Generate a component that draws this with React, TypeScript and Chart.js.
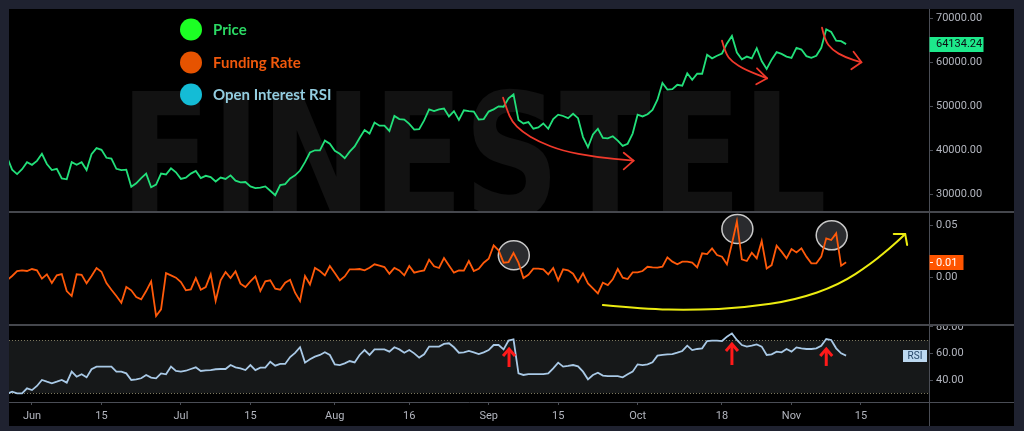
import React, { useEffect, useRef } from 'react';
import { Chart, registerables } from 'chart.js';

Chart.register(...registerables);

// x = days since 1 Jun 2021; the first value is 27 May 2021
const FIRST_DAY = -5;
const X_MIN = -4.63;
const X_MAX = 180.7;

const price = [
  38400, 35600, 34600, 35700, 37300, 36700, 37600, 39200, 36900, 35500,
  35800, 33600, 33400, 37300, 36700, 37300, 35500, 39100, 40500, 40100,
  38300, 38100, 35800, 35500, 35600, 31700, 32500, 33700, 34700, 31600,
  32200, 34700, 34500, 35900, 35000, 33500, 33800, 34700, 35300, 33700,
  34200, 33900, 32900, 33800, 33500, 34300, 33100, 32700, 32800, 31800,
  31400, 31500, 31800, 30800, 29800, 32100, 32300, 33600, 34300, 35400,
  37300, 39500, 40000, 40000, 42200, 41500, 39900, 39200, 38200, 39700,
  40900, 42800, 44600, 43800, 46300, 45600, 45600, 44400, 47800, 47100,
  47000, 46000, 44700, 44800, 46800, 49300, 48900, 49300, 49500, 47700,
  48900, 46900, 49100, 48900, 48800, 47000, 47100, 48800, 49300, 50000,
  49900, 51800, 52700, 46900, 46100, 46400, 44900, 45200, 46100, 44900,
  47100, 48100, 47800, 47300, 48300, 47300, 43000, 40700, 43600, 44900,
  42800, 42700, 43200, 42200, 41000, 41500, 43800, 48100, 47700, 48200,
  49200, 51500, 55300, 53800, 53900, 54900, 54700, 57500, 56000, 57400,
  57400, 61700, 60900, 61500, 62000, 64300, 66000, 62200, 60700, 61300,
  60900, 63200, 60300, 58500, 60600, 62300, 61900, 61300, 61000, 63300,
  62900, 61400, 61000, 61500, 63300, 67500, 66900, 64900, 64800, 64134.24,
];

const funding = [
  -0.003, 0.001, 0.0058, 0.0064, 0.0058, 0.0077, 0.0064, -0.0016, 0.0026, -0.0058,
  0.0016, 0.0029, -0.0135, -0.0183, 0.0026, 0.0022, -0.0061, 0.001, 0.0087, 0.0051,
  -0.0058, -0.0122, -0.0183, -0.0247, -0.0096, -0.0128, -0.0192, -0.0215, -0.0135, -0.0042,
  -0.0375, -0.0311, 0.0038, 0.0016, -0.0006, -0.0048, -0.0128, -0.0119, -0.001, -0.0122,
  -0.0096, 0.0026, -0.0231, -0.0032, 0.0048, -0.001, 0.0055, -0.0064, -0.0096, -0.0042,
  0.0006, -0.0135, -0.0042, -0.0032, -0.0112, -0.0122, -0.0055, -0.0027, -0.0151, -0.0231,
  0.001, -0.0071, 0.0087, 0.0058, 0.0016, 0.0106, 0.0038, -0.0032, 0.0006, 0.0074,
  0.0074, 0.0077, 0.0064, 0.009, 0.0122, 0.0109, 0.0096, 0.0032, 0.0087, 0.0064,
  0.0016, 0.0106, 0.0042, 0.0055, 0.0064, 0.0167, 0.0103, 0.0087, 0.0183, 0.0112,
  0.0042, 0.0064, 0.0061, 0.0154, 0.0058, 0.008, 0.0138, 0.0176, 0.0305, 0.0257,
  0.0138, 0.0144, 0.0231, 0.0138, -0.001, 0.0022, 0.008, 0.008, 0.0074, 0.0026,
  0.0087, -0.0032, 0.0074, 0.0064, 0.0032, -0.0047, 0.0035, -0.0061, -0.0109, -0.0157,
  -0.0055, -0.0077, -0.0022, 0.0077, -0.0006, -0.0019, 0.0045, 0.0045, 0.0058, 0.0099,
  0.0093, 0.009, 0.0099, 0.0189, 0.0148, 0.0122, 0.0148, 0.0148, 0.0138, 0.0093,
  0.0228, 0.0221, 0.0276, 0.0212, 0.0196, 0.0122, 0.032, 0.0535, 0.017, 0.0154,
  0.0234, 0.018, 0.0346, 0.0083, 0.0115, 0.0301, 0.0244, 0.018, 0.0269, 0.0237,
  0.0276, 0.0196, 0.0131, 0.0131, 0.0196, 0.0372, 0.0356, 0.042, 0.0109, 0.0141,
];

const rsi = [
  29.5, 31.2, 29.9, 29.9, 33.7, 32.4, 35.5, 40.0, 38.7, 37.5,
  38.7, 40.0, 38.0, 46.3, 42.5, 44.3, 42.0, 48.1, 50.1, 50.1,
  50.1, 50.1, 46.3, 46.3, 45.0, 40.0, 40.5, 41.3, 43.8, 41.8,
  41.3, 45.0, 44.3, 50.1, 46.8, 46.3, 47.0, 48.3, 49.6, 46.8,
  47.3, 47.5, 48.1, 48.3, 48.3, 51.3, 49.6, 48.8, 47.5, 51.3,
  47.5, 49.3, 49.3, 53.8, 50.8, 52.1, 52.1, 57.3, 60.5, 64.7,
  53.1, 55.6, 57.6, 58.9, 60.9, 58.9, 51.8, 51.3, 52.6, 54.3,
  53.3, 58.9, 62.6, 58.9, 63.1, 63.1, 63.1, 61.4, 64.7, 63.1,
  60.6, 62.6, 60.1, 56.9, 59.4, 65.2, 65.2, 65.2, 67.2, 67.7,
  64.7, 60.6, 60.9, 61.9, 60.9, 59.6, 60.9, 62.6, 66.4, 66.4,
  63.1, 69.7, 70.7, 45.0, 43.8, 44.5, 44.5, 44.5, 44.5, 45.0,
  48.8, 53.1, 50.1, 50.6, 51.3, 50.3, 46.3, 40.5, 43.8, 45.5,
  43.3, 43.0, 43.0, 43.0, 42.0, 44.3, 46.3, 51.8, 51.3, 51.8,
  53.3, 58.4, 58.9, 59.4, 59.6, 60.6, 61.9, 65.9, 62.6, 63.4,
  63.9, 69.4, 69.7, 69.7, 69.4, 72.7, 75.2, 70.2, 66.4, 65.2,
  65.9, 66.9, 65.2, 58.9, 59.4, 61.4, 60.9, 63.4, 61.4, 64.6,
  63.9, 63.4, 63.4, 63.9, 65.9, 70.9, 70.2, 63.9, 60.1, 58.4,
];

const timeTickDays = [0, 14, 30, 44, 61, 76, 92, 106, 122, 139, 153, 167];
const timeTickLabels = ['Jun', '15', 'Jul', '15', 'Aug', '16', 'Sep', '15', 'Oct', '18', 'Nov', '15'];
const priceTicks = [30000, 40000, 50000, 60000, 70000];
const fundingTicks = [0, 0.05];
const rsiTicks = [40, 60, 80];
const rsiBand = [30, 70];
const seriesNames = ['Price', 'Funding Rate', 'Open Interest RSI'];

// hand-drawn annotations, in data units (day, value)
const priceArrows = [
  {
    path: [[94.9, 51950], [95.7, 49150], [96.7, 46500], [98.7, 44230], [102.1, 41950], [106.8, 39900], [113.4, 38480], [121.2, 37640]],
    head: [[119.2, 39450], [121.2, 37640], [119.2, 35680]],
  },
  {
    path: [[139.0, 64900], [139.7, 62050], [141.0, 60140], [143.7, 58250], [148.1, 56360]],
    head: [[146.05, 58640], [148.1, 56360], [145.9, 55000]],
  },
  {
    path: [[159.15, 67860], [159.7, 65070], [161.2, 62800], [163.8, 61140], [167.1, 60000]],
    head: [[165.5, 62410], [167.1, 60000], [165.05, 58410]],
  },
];
const fundingTrend = {
  path: [[115.0, -0.0269], [123.5, -0.0308], [133.0, -0.0318], [143.7, -0.0295], [153.8, -0.0221], [162.5, -0.0077], [169.2, 0.0132], [173.9, 0.0324], [175.9, 0.0414]],
  head: [[173.6, 0.0414], [175.9, 0.0414], [176.3, 0.0308]],
};
const fundingCircles = [[97.06, 0.0209], [142.1, 0.0462], [161.1, 0.0401]];
const rsiArrows = [[96.1, 64.2, 49.8], [141, 67.9, 51.3], [160, 64.2, 50.6]];

const AXIS_TEXT = '#b2b5be';
const AXIS_LINE = '#4a4d55';
const PRICE_COLOR = '#22e07a';
const FUNDING_COLOR = '#ff5a0a';
const RSI_COLOR = '#a9c9e6';

function toPts(xs: any, ys: any, pts: number[][]) {
  return pts.map((p) => [xs.getPixelForValue(p[0]), ys.getPixelForValue(p[1])]);
}

function drawCurve(ctx: any, xs: any, ys: any, ann: any, color: string, width: number) {
  const p = toPts(xs, ys, ann.path);
  ctx.save();
  ctx.strokeStyle = color;
  ctx.lineWidth = width;
  ctx.lineCap = 'round';
  ctx.lineJoin = 'round';
  ctx.beginPath();
  ctx.moveTo(p[0][0], p[0][1]);
  for (let i = 1; i < p.length - 1; i++) {
    const mx = (p[i][0] + p[i + 1][0]) / 2;
    const my = (p[i][1] + p[i + 1][1]) / 2;
    ctx.quadraticCurveTo(p[i][0], p[i][1], mx, my);
  }
  ctx.lineTo(p[p.length - 1][0], p[p.length - 1][1]);
  ctx.stroke();
  const h = toPts(xs, ys, ann.head);
  ctx.beginPath();
  ctx.moveTo(h[0][0], h[0][1]);
  ctx.lineTo(h[1][0], h[1][1]);
  ctx.lineTo(h[2][0], h[2][1]);
  ctx.stroke();
  ctx.restore();
}

function drawTag(ctx: any, x: number, yc: number, w: number, h: number, bg: string, fg: string, text: string, tx: number) {
  ctx.save();
  ctx.fillStyle = bg;
  ctx.fillRect(x, Math.round(yc - h / 2), w, h);
  ctx.fillStyle = fg;
  ctx.font = '11px Roboto';
  ctx.textBaseline = 'middle';
  ctx.textAlign = 'left';
  ctx.fillText(text, tx, yc + 0.5);
  ctx.restore();
}

function yScale(min: number, max: number, ticks: number[]) {
  return {
    position: 'right',
    min,
    max,
    afterFit: (s: any) => {
      s.width = 85;
      s.paddingTop = 0;
      s.paddingBottom = 0;
    },
    afterBuildTicks: (s: any) => {
      s.ticks = ticks.map((v) => ({ value: v }));
    },
    ticks: {
      color: AXIS_TEXT,
      font: { family: 'Roboto', size: 11 },
      padding: 3,
      callback: (v: any) => Number(v).toFixed(2),
    },
    grid: { drawOnChartArea: false, drawTicks: true, tickLength: 4, color: AXIS_LINE },
    border: { display: true, color: AXIS_LINE, width: 1 },
  };
}

function hiddenX() {
  return { type: 'linear', min: X_MIN, max: X_MAX, display: false };
}

function lineData(values: number[], label: string, color: string) {
  return {
    datasets: [
      {
        label,
        data: values.map((v, i) => ({ x: i + FIRST_DAY, y: v })),
        borderColor: color,
        borderWidth: 1.8,
        pointRadius: 0,
        fill: false,
        tension: 0,
      },
    ],
  };
}

const baseOptions = {
  animation: false,
  responsive: false,
  maintainAspectRatio: false,
  events: [],
  layout: { padding: 0 },
  plugins: { legend: { display: false }, tooltip: { enabled: false } },
};

const pricePanel = {
  id: 'pricePanel',
  beforeDatasetsDraw(chart: any) {
    const { ctx, chartArea: a } = chart;
    ctx.save();
    ctx.beginPath();
    ctx.rect(a.left, a.top, a.right - a.left, a.bottom - a.top);
    ctx.clip();
    ctx.fillStyle = '#121212';
    ctx.font = 'bold 172px "DejaVu Sans"';
    ctx.textBaseline = 'alphabetic';
    ctx.textAlign = 'left';
    ctx.fillText('FINESTEL', 111, 207, 707);
    ctx.restore();
  },
  afterDatasetsDraw(chart: any) {
    const { ctx, scales } = chart;
    priceArrows.forEach((ar) => drawCurve(ctx, scales.x, scales.y, ar, '#f0392b', 1.8));
    const items = [
      { dot: '#1cff24', text: '#2bd964', y: 20.5 },
      { dot: '#e65300', text: '#f0580c', y: 53.5 },
      { dot: '#14bcd6', text: '#93cde0', y: 85.5 },
    ];
    ctx.save();
    ctx.font = 'bold 15px Lato';
    ctx.textBaseline = 'middle';
    ctx.textAlign = 'left';
    items.forEach((it, i) => {
      ctx.fillStyle = it.dot;
      ctx.beginPath();
      ctx.arc(182, it.y, 11, 0, Math.PI * 2);
      ctx.fill();
      ctx.fillStyle = it.text;
      ctx.fillText(seriesNames[i], 204, it.y + 0.5);
    });
    ctx.restore();
  },
  afterDraw(chart: any) {
    const { ctx, chartArea: a, scales } = chart;
    const last = price[price.length - 1];
    const yc = scales.y.getPixelForValue(last);
    drawTag(ctx, a.right + 0.5, yc, 54, 15, '#1de98b', '#0b0d12', last.toFixed(2), a.right + 7);
  },
};

const fundingPanel = {
  id: 'fundingPanel',
  beforeDatasetsDraw(chart: any) {
    const { ctx, scales } = chart;
    ctx.save();
    fundingCircles.forEach((c) => {
      const cx = scales.x.getPixelForValue(c[0]);
      const cy = scales.y.getPixelForValue(c[1]);
      ctx.beginPath();
      ctx.ellipse(cx, cy, 15.5, 14.5, 0, 0, Math.PI * 2);
      ctx.fillStyle = '#2a2b2e';
      ctx.fill();
      ctx.strokeStyle = '#c9c9c9';
      ctx.lineWidth = 1.5;
      ctx.stroke();
    });
    ctx.restore();
  },
  afterDatasetsDraw(chart: any) {
    const { ctx, scales } = chart;
    drawCurve(ctx, scales.x, scales.y, fundingTrend, '#ecec10', 2);
  },
  afterDraw(chart: any) {
    const { ctx, chartArea: a, scales } = chart;
    const last = funding[funding.length - 1];
    const yc = scales.y.getPixelForValue(last);
    drawTag(ctx, a.right + 0.5, yc, 34, 15, '#ff5500', '#ffffff', last.toFixed(2), a.right + 7);
    ctx.save();
    ctx.strokeStyle = '#ffffff';
    ctx.lineWidth = 1;
    ctx.beginPath();
    ctx.moveTo(a.right + 1, Math.round(yc) + 0.5);
    ctx.lineTo(a.right + 4, Math.round(yc) + 0.5);
    ctx.stroke();
    ctx.restore();
  },
};

const rsiPanel = {
  id: 'rsiPanel',
  beforeDatasetsDraw(chart: any) {
    const { ctx, chartArea: a, scales } = chart;
    const yHi = scales.y.getPixelForValue(rsiBand[1]);
    const yLo = scales.y.getPixelForValue(rsiBand[0]);
    ctx.save();
    ctx.fillStyle = '#161819';
    ctx.fillRect(a.left, yHi, a.right - a.left, yLo - yHi);
    ctx.strokeStyle = '#7d785f';
    ctx.lineWidth = 1;
    ctx.setLineDash([1, 2]);
    [yHi, yLo].forEach((yy) => {
      ctx.beginPath();
      ctx.moveTo(a.left, Math.round(yy) + 0.5);
      ctx.lineTo(a.right, Math.round(yy) + 0.5);
      ctx.stroke();
    });
    ctx.restore();
  },
  afterDatasetsDraw(chart: any) {
    const { ctx, scales } = chart;
    ctx.save();
    ctx.strokeStyle = '#ff1a1a';
    ctx.lineWidth = 3;
    ctx.lineJoin = 'miter';
    rsiArrows.forEach((r) => {
      const px = scales.x.getPixelForValue(r[0]);
      const tip = scales.y.getPixelForValue(r[1]);
      const tail = scales.y.getPixelForValue(r[2]);
      ctx.beginPath();
      ctx.moveTo(px, tail);
      ctx.lineTo(px, tip + 2);
      ctx.stroke();
      ctx.beginPath();
      ctx.moveTo(px - 6, tip + 8);
      ctx.lineTo(px, tip + 1);
      ctx.lineTo(px + 6, tip + 8);
      ctx.stroke();
    });
    ctx.restore();
  },
  afterDraw(chart: any) {
    const { ctx, chartArea: a, scales, width, height } = chart;
    ctx.save();
    ctx.strokeStyle = AXIS_LINE;
    ctx.lineWidth = 1;
    ctx.beginPath();
    ctx.moveTo(a.right, Math.round(a.bottom) + 0.5);
    ctx.lineTo(width, Math.round(a.bottom) + 0.5);
    ctx.moveTo(Math.round(a.right) + 0.5, a.bottom);
    ctx.lineTo(Math.round(a.right) + 0.5, height);
    ctx.stroke();
    const yc = scales.y.getPixelForValue(rsi[rsi.length - 1]);
    ctx.fillStyle = '#bcd8f0';
    ctx.fillRect(a.right - 26, Math.round(yc - 6), 24, 12);
    ctx.fillStyle = '#27476a';
    ctx.font = '10px Roboto';
    ctx.textBaseline = 'middle';
    ctx.textAlign = 'center';
    ctx.fillText('RSI', a.right - 14, yc + 0.5);
    ctx.restore();
  },
};

export default function App() {
  const priceRef = useRef<HTMLCanvasElement>(null);
  const fundingRef = useRef<HTMLCanvasElement>(null);
  const rsiRef = useRef<HTMLCanvasElement>(null);

  useEffect(() => {
    const charts: any[] = [];
    charts.push(
      new Chart(priceRef.current as any, {
        type: 'line',
        data: lineData(price, seriesNames[0], PRICE_COLOR) as any,
        options: { ...baseOptions, scales: { x: hiddenX(), y: yScale(26205, 72114, priceTicks) } } as any,
        plugins: [pricePanel],
      })
    );
    charts.push(
      new Chart(fundingRef.current as any, {
        type: 'line',
        data: lineData(funding, seriesNames[1], FUNDING_COLOR) as any,
        options: { ...baseOptions, scales: { x: hiddenX(), y: yScale(-0.0452, 0.0616, fundingTicks) } } as any,
        plugins: [fundingPanel],
      })
    );
    charts.push(
      new Chart(rsiRef.current as any, {
        type: 'line',
        data: lineData(rsi, seriesNames[2], RSI_COLOR) as any,
        options: {
          ...baseOptions,
          scales: {
            x: {
              type: 'linear',
              position: 'bottom',
              min: X_MIN,
              max: X_MAX,
              afterFit: (s: any) => {
                s.height = 24;
                s.paddingLeft = 0;
                s.paddingRight = 0;
              },
              afterBuildTicks: (s: any) => {
                s.ticks = timeTickDays.map((v) => ({ value: v }));
              },
              ticks: {
                color: AXIS_TEXT,
                font: { family: 'Roboto', size: 11 },
                autoSkip: false,
                maxRotation: 0,
                padding: 5,
                callback: (_v: any, i: number) => timeTickLabels[i],
              },
              grid: { drawOnChartArea: false, drawTicks: true, tickLength: 3, color: AXIS_LINE },
              border: { display: true, color: AXIS_LINE, width: 1 },
            },
            y: yScale(23.4, 80.75, rsiTicks),
          },
        } as any,
        plugins: [rsiPanel],
      })
    );
    return () => charts.forEach((c) => c.destroy());
  }, []);

  const sep: React.CSSProperties = { position: 'absolute', left: 0, width: 1005, height: 2, background: '#45474d' };

  return (
    <div style={{ position: 'fixed', left: 0, top: 0, width: 1024, height: 431, background: '#1f2230' }}>
      <div style={{ position: 'absolute', left: 9, top: 9, width: 1005, height: 417, background: '#000' }}>
        <canvas ref={priceRef} width={1005} height={202} style={{ position: 'absolute', left: 0, top: 0, width: 1005, height: 202 }} />
        <div style={{ ...sep, top: 202 }} />
        <canvas ref={fundingRef} width={1005} height={111} style={{ position: 'absolute', left: 0, top: 204, width: 1005, height: 111 }} />
        <div style={{ ...sep, top: 315 }} />
        <canvas ref={rsiRef} width={1005} height={100} style={{ position: 'absolute', left: 0, top: 317, width: 1005, height: 100 }} />
      </div>
    </div>
  );
}
